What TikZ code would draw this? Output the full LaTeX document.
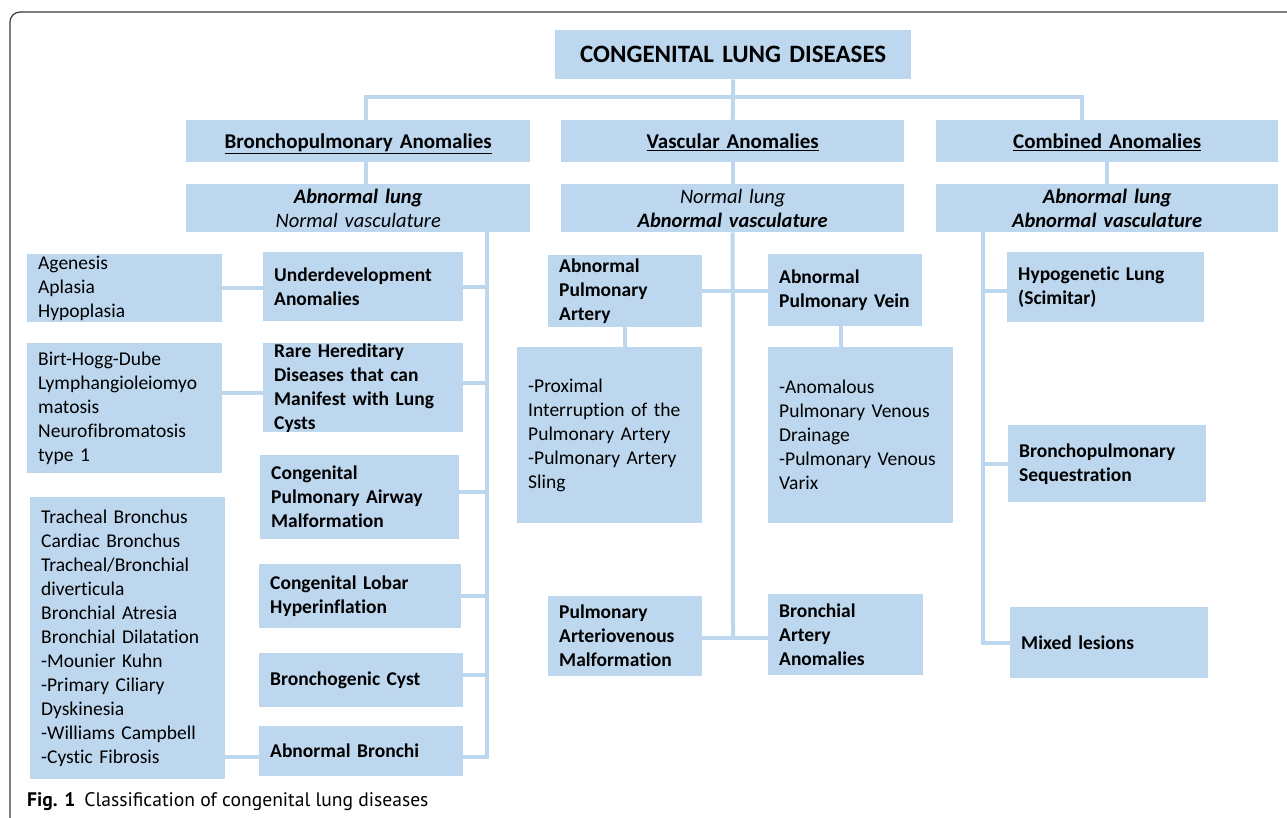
\documentclass[tikz,border=0pt]{standalone}
\usepackage{fontspec}
\setmainfont{Carlito}[Ligatures=NoCommon]
\newfontfamily\capfont{PT Sans}
\definecolor{boxblue}{HTML}{BDD7EE}
\definecolor{framegray}{HTML}{3A3A3A}
\begin{document}
\begin{tikzpicture}[x=1pt,y=-1pt,
  box/.style={fill=boxblue, inner xsep=11pt, inner ysep=0pt, anchor=north west, align=left,
              font=\fontsize{19.5}{24}\selectfont},
  bbox/.style={box, font=\fontsize{19.5}{24}\selectfont\bfseries},
  cbox/.style={box, align=center},
  hbox/.style={cbox, minimum height=42pt, text height=14pt, text depth=0pt, font=\fontsize{21}{24}\selectfont\bfseries},
  conn/.style={draw=boxblue, line width=4pt},
  framec/.style={draw=framegray, line width=1.2pt, rounded corners=10pt}]
\useasboundingbox (0,0) rectangle (1287,818);
\draw[framec] (10,818) -- (10,12) -- (1287,12);

% top level
\node[cbox, text width=334pt, minimum height=49pt, font=\fontsize{25}{29}\selectfont\bfseries] (title) at (555,30) {CONGENITAL LUNG DISEASES};
\node[hbox, text width=322pt] (bp) at (186,120) {\underline{Bronchopulmonary Anomalies}};
\node[hbox, text width=321pt] (vasc) at (561,120) {\underline{Vascular Anomalies}};
\node[hbox, text width=320pt] (comb) at (936,120) {\underline{Combined Anomalies}};
\node[cbox, text width=322pt, minimum height=48pt, font=\fontsize{20.5}{24}\selectfont] (bpsub) at (186,184) {\textbf{\textit{Abnormal lung}}\\\textit{Normal vasculature}};
\node[cbox, text width=321pt, minimum height=48pt, font=\fontsize{20.5}{24}\selectfont] (vascsub) at (561,184) {\textit{Normal lung}\\\textbf{\textit{Abnormal vasculature}}};
\node[cbox, text width=320pt, minimum height=48pt, font=\fontsize{20.5}{24}\selectfont] (combsub) at (936,184) {\textbf{\textit{Abnormal lung}}\\\textbf{\textit{Abnormal vasculature}}};

% bronchopulmonary column
\node[box, text width=173pt, minimum height=68pt] (ag) at (27,254) {Agenesis\\Aplasia\\Hypoplasia};
\node[bbox, text width=178pt, minimum height=69pt] (ud) at (263,252) {Underdevelopment\\Anomalies};
\node[box, text width=173pt, minimum height=130pt] (birt) at (27,343) {Birt-Hogg-Dube\\Lymphangioleiomyo\\matosis\\Neurofibromatosis\\type 1};
\node[bbox, text width=178pt, minimum height=89pt] (rare) at (263,343) {Rare Hereditary\\Diseases that can\\Manifest with Lung\\Cysts};
\node[bbox, text width=177pt, minimum height=84pt] (cpam) at (260,455) {Congenital\\Pulmonary Airway\\Malformation};
\node[box, text width=173pt, minimum height=282pt] (trach) at (30,497) {Tracheal Bronchus\\Cardiac Bronchus\\Tracheal/Bronchial\\diverticula\\Bronchial Atresia\\Bronchial Dilatation\\-Mounier Kuhn\\-Primary Ciliary\\Dyskinesia\\-Williams Campbell\\-Cystic Fibrosis};
\node[bbox, text width=180pt, minimum height=64pt] (clh) at (259,564) {Congenital Lobar\\Hyperinflation};
\node[bbox, text width=182pt, minimum height=54pt] (bcyst) at (259,653) {Bronchogenic Cyst};
\node[bbox, text width=182pt, minimum height=50pt] (abr) at (259,726) {Abnormal Bronchi};

% vascular column
\node[bbox, text width=132pt, minimum height=72pt] (apa) at (548,255) {Abnormal\\Pulmonary\\Artery};
\node[bbox, text width=132pt, minimum height=72pt] (apv) at (768,254) {Abnormal\\Pulmonary Vein};
\node[box, text width=163pt, minimum height=176pt] (apadet) at (517,347) {-Proximal\\Interruption of the\\Pulmonary Artery\\-Pulmonary Artery\\Sling};
\node[box, text width=163pt, minimum height=176pt] (apvdet) at (768,347) {-Anomalous\\Pulmonary Venous\\Drainage\\-Pulmonary Venous\\Varix};
\node[bbox, text width=132pt, minimum height=80pt] (pavm) at (548,596) {Pulmonary\\Arteriovenous\\Malformation};
\node[bbox, text width=133pt, minimum height=81pt] (bra) at (768,594) {Bronchial\\Artery\\Anomalies};

% combined column
\node[bbox, text width=175pt, minimum height=70pt] (hyp) at (1007,252) {Hypogenetic Lung\\(Scimitar)};
\node[bbox, text width=176pt, minimum height=77pt] (bps) at (1008,425) {Bronchopulmonary\\Sequestration};
\node[bbox, text width=176pt, minimum height=71pt] (mix) at (1010,607) {Mixed lesions};

% caption
\node[anchor=west, inner sep=0pt, font=\capfont\fontsize{19.6}{23}\selectfont] (cap) at (27,802) {\textbf{Fig. 1}\hspace{9pt}Classification of congenital lung diseases};

% connectors: top
\coordinate (hub) at (733,97);
\draw[conn] (title.south) -- (vasc.north);
\draw[conn] ([xshift=8pt]bp.north) |- (hub) -| ([xshift=-25pt]comb.north);
\draw[conn] ([xshift=8pt]bp.south) -- ([xshift=8pt]bpsub.north);
\draw[conn] (vasc.south) -- (vascsub.north);
\draw[conn] (comb.south) -- (combsub.north);

% bronchopulmonary spine
\coordinate (bsp) at (487,757);
\draw[conn] (bpsub.south -| bsp) -- (bsp) -- (abr.east |- bsp);
\draw[conn] (ud.east) -- (ud.east -| bsp);
\draw[conn] ([yshift=5pt]rare.east) -- ([yshift=5pt]rare.east -| bsp);
\draw[conn] ([yshift=5pt]cpam.east) -- ([yshift=5pt]cpam.east -| bsp);
\draw[conn] (clh.east) -- (clh.east -| bsp);
\draw[conn] ([yshift=5pt]bcyst.east) -- ([yshift=5pt]bcyst.east -| bsp);
\draw[conn] (ag.east) -- (ag.east -| ud.west);
\draw[conn] ([yshift=-5pt]rare.west) -- ([yshift=-5pt]rare.west -| birt.east);
\draw[conn] (abr.west |- bsp) -- (trach.east |- bsp);

% vascular spine
\coordinate (vsp) at (733,638);
\draw[conn] (vascsub.south) -- (vsp);
\draw[conn] (apa.east) -- (apa.east -| apv.west);
\draw[conn] (pavm.east |- vsp) -- (bra.west |- vsp);
\draw[conn] (apa.south) -- (apa.south |- apadet.north);
\draw[conn] ([xshift=-4pt]apv.south) -- ([xshift=-4pt]apv.south |- apvdet.north);

% combined spine
\coordinate (csp) at (983,643);
\draw[conn] (combsub.south -| csp) -- (csp) -- (mix.west |- csp);
\draw[conn] ([yshift=-4pt]hyp.west) -- ([yshift=-4pt]hyp.west -| csp);
\draw[conn] (bps.west) -- (bps.west -| csp);
\end{tikzpicture}
\end{document}
